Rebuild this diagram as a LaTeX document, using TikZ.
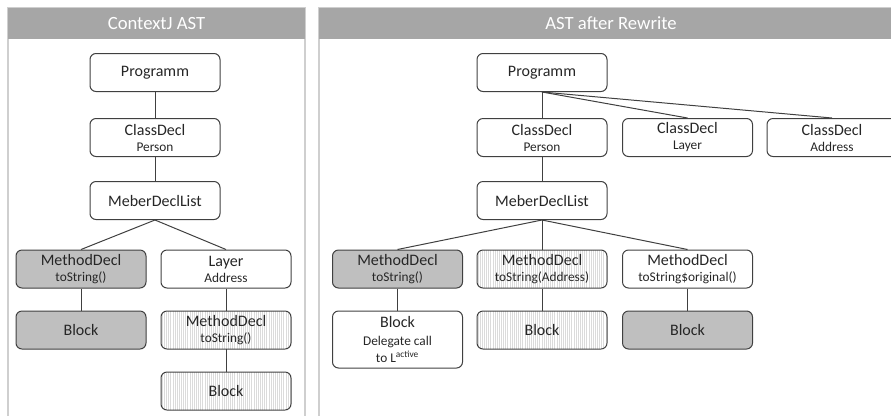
\documentclass[tikz,border=0pt]{standalone}
\usepackage{fontspec}
\setmainfont{Carlito}
\usepackage{tikz}
\usetikzlibrary{positioning, patterns.meta}
\definecolor{astgray}{HTML}{BFBFBF}
\definecolor{titlegray}{HTML}{A6A6A6}
\definecolor{panelline}{HTML}{CFCFCF}
\definecolor{boxline}{HTML}{404040}
\definecolor{txt}{HTML}{262626}
\newcommand{\astsub}[1]{{\fontsize{10}{12}\selectfont #1}}

\begin{document}
\begin{tikzpicture}[x=0.75pt, y=-0.75pt,
    astnode/.style={draw=boxline, line width=0.75pt, rounded corners=4.5pt, minimum width=97.5pt, minimum height=28.5pt, align=center, text=txt, inner sep=1pt, font=\fontsize{12}{12}\selectfont},
    oldnode/.style={astnode, fill=astgray},
    layernode/.style={astnode, pattern={Lines[angle=90,distance=1.6pt,line width=0.4pt]}, pattern color=gray!28},
    treeline/.style={draw=boxline, line width=0.75pt},
    titletext/.style={text=white, font=\fontsize{14}{14}\selectfont}]
    \useasboundingbox (0,0) rectangle (891,415);
    \clip (0,0) rectangle (891,415);

    % panels
    \draw[panelline, line width=1.2pt] (8,8) rectangle (305,440);
    \fill[titlegray] (8,8) rectangle (305,39);
    \draw[panelline, line width=1.2pt] (319,8) rectangle (903,440);
    \fill[titlegray] (319,8) rectangle (903,39);
    \node[titletext] (title1) at (156.5,23.5) {ContextJ AST};
    \node[titletext] (title2) at (611,23.5) {AST after Rewrite};

    % ContextJ AST
    \node[astnode] (prog1) at (155,72.5) {Programm};
    \node[astnode] (cls1) at (155,137.5) {ClassDecl\\\astsub{Person}};
    \node[astnode] (mem1) at (155,200.5) {MeberDeclList};
    \node[oldnode] (mth1) at (81,269) {MethodDecl\\\astsub{toString()}};
    \node[astnode] (lay1) at (226,269) {Layer\\\astsub{Address}};
    \node[oldnode] (blk1) at (81,330) {Block};
    \node[layernode] (mth2) at (226,330) {MethodDecl\\\astsub{toString()}};
    \node[layernode] (blk2) at (226,391) {Block};

    \draw[treeline] (prog1) -- (cls1);
    \draw[treeline] (cls1) -- (mem1);
    \draw[treeline] (mem1.south) -- (mth1.north);
    \draw[treeline] (mem1.south) -- (lay1.north);
    \draw[treeline] (mth1) -- (blk1);
    \draw[treeline] (lay1) -- (mth2);
    \draw[treeline] (mth2) -- (blk2);

    % AST after Rewrite
    \node[astnode] (prog2) at (542,72.5) {Programm};
    \node[astnode] (cls2) at (542,137.5) {ClassDecl\\\astsub{Person}};
    \node[astnode] (cls3) at (687.5,137.5) {ClassDecl\\\astsub{Layer}};
    \node[astnode] (cls4) at (832,137.5) {ClassDecl\\\astsub{Address}};
    \node[astnode] (mem2) at (542,200.5) {MeberDeclList};
    \node[oldnode] (mth3) at (397.5,269) {MethodDecl\\\astsub{toString()}};
    \node[layernode] (mth4) at (542,269) {MethodDecl\\\astsub{toString(Address)}};
    \node[astnode] (mth5) at (687.5,269) {MethodDecl\\\astsub{toString\$original()}};
    \node[astnode, minimum height=42.75pt] (blk3) at (397.5,339.5) {Block\\[1pt]\astsub{Delegate call}\\[1pt]\astsub{to L\textsuperscript{active}}};
    \node[layernode] (blk4) at (542,330) {Block};
    \node[oldnode] (blk5) at (687.5,330) {Block};

    \draw[treeline] (prog2) -- (cls2);
    \draw[treeline] (prog2.south) -- (cls3.north);
    \draw[treeline] (prog2.south) -- (cls4.north);
    \draw[treeline] (cls2) -- (mem2);
    \draw[treeline] (mem2.south) -- (mth3.north);
    \draw[treeline] (mem2) -- (mth4);
    \draw[treeline] (mem2.south) -- (mth5.north);
    \draw[treeline] (mth3) -- (blk3);
    \draw[treeline] (mth4) -- (blk4);
    \draw[treeline] (mth5) -- (blk5);
\end{tikzpicture}
\end{document}
